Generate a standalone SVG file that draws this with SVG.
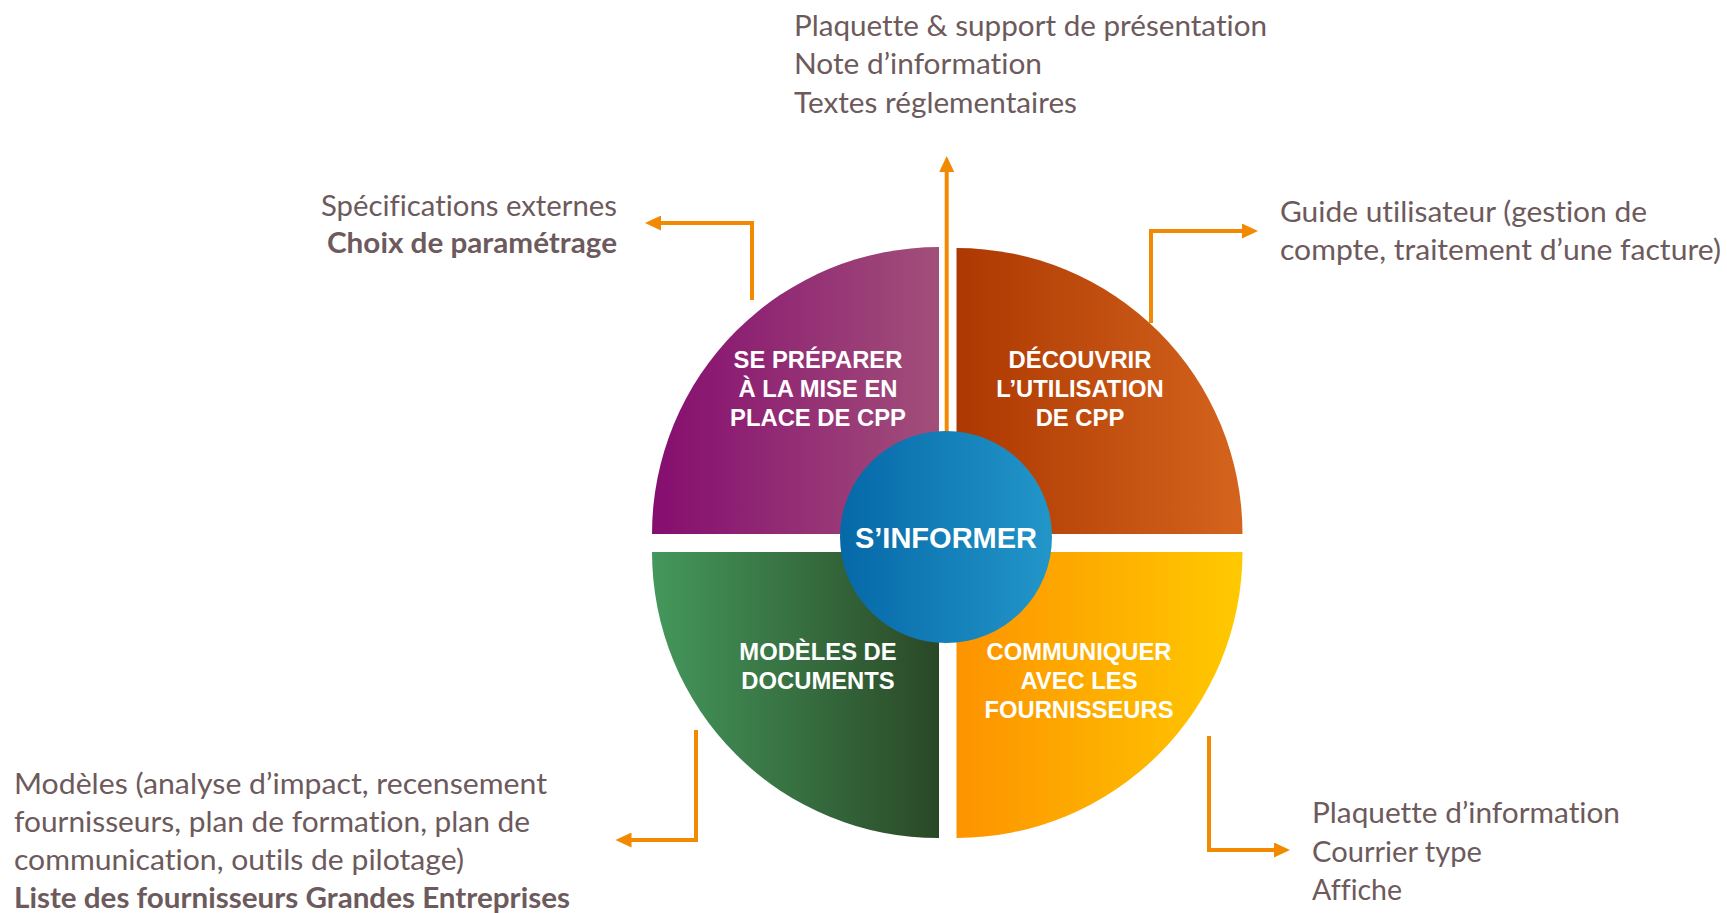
<svg xmlns="http://www.w3.org/2000/svg" width="1727" height="913" viewBox="0 0 1727 913">
<defs>
<style>
.t{font-family:Lato,"Open Sans","Liberation Sans",sans-serif;font-size:28px;fill:#6d5a5c;font-variant-ligatures:none;font-feature-settings:"liga" 0,"clig" 0}
.b{font-weight:bold}
.lbl{font-family:"Liberation Sans",Arial,sans-serif;font-weight:bold;font-size:23.8px;fill:#ffffff;text-anchor:middle}
.ctr{font-family:"Liberation Sans",Arial,sans-serif;font-weight:bold;font-size:29px;fill:#ffffff;text-anchor:middle}
.con{fill:none;stroke:#f18a00;stroke-width:4;marker-end:url(#ah)}
</style>
<marker id="ah" viewBox="0 0 16 15" refX="1" refY="7.5" markerWidth="16" markerHeight="15" markerUnits="userSpaceOnUse" orient="auto">
<path d="M0,0 L16,7.5 L0,15 Z" fill="#f18a00"/>
</marker>
<linearGradient id="gTL" x1="0" y1="0" x2="1" y2="0"><stop offset="0" stop-color="#850d6f"/><stop offset="1" stop-color="#a24f7a"/></linearGradient>
<linearGradient id="gTR" x1="0" y1="0" x2="1" y2="0"><stop offset="0" stop-color="#ad3802"/><stop offset="1" stop-color="#d4641d"/></linearGradient>
<linearGradient id="gBL" x1="0" y1="0" x2="1" y2="0"><stop offset="0" stop-color="#44985c"/><stop offset="1" stop-color="#2a4826"/></linearGradient>
<linearGradient id="gBR" x1="0" y1="0" x2="1" y2="0"><stop offset="0" stop-color="#fd9300"/><stop offset="1" stop-color="#ffc900"/></linearGradient>
<linearGradient id="gC" x1="0" y1="0" x2="1" y2="0"><stop offset="0" stop-color="#0668a8"/><stop offset="1" stop-color="#2296c9"/></linearGradient>
</defs>
<rect width="1727" height="913" fill="#ffffff"/>

<g id="connectors">
<path class="con" d="M946.7,431 V171"/>
<path class="con" d="M752,300 V223 H660"/>
<path class="con" d="M1151,323 V231 H1243"/>
<path class="con" d="M696,730 V840 H630.5"/>
<path class="con" d="M1209,736 V850 H1275"/>
</g>

<g id="node-preparer">
<path d="M939,534 H652 A287,287 0 0 1 939,247 Z" fill="url(#gTL)"/>
<text class="lbl" x="818" y="368">SE PRÉPARER</text>
<text class="lbl" x="818" y="397">À LA MISE EN</text>
<text class="lbl" x="818" y="426">PLACE DE CPP</text>
</g>

<g id="node-decouvrir">
<path d="M956.5,534 V248 A286,286 0 0 1 1242.5,534 Z" fill="url(#gTR)"/>
<text class="lbl" x="1080" y="368">DÉCOUVRIR</text>
<text class="lbl" x="1080" y="397">L’UTILISATION</text>
<text class="lbl" x="1080" y="426">DE CPP</text>
</g>

<g id="node-modeles">
<path d="M939,552 V838 A286,286 0 0 1 652,552 Z" fill="url(#gBL)"/>
<text class="lbl" x="818" y="660">MODÈLES DE</text>
<text class="lbl" x="818" y="689">DOCUMENTS</text>
</g>

<g id="node-communiquer">
<path d="M956.5,552 H1242.5 A286,286 0 0 1 956.5,838 Z" fill="url(#gBR)"/>
<text class="lbl" x="1079" y="660">COMMUNIQUER</text>
<text class="lbl" x="1079" y="689">AVEC LES</text>
<text class="lbl" x="1079" y="718">FOURNISSEURS</text>
</g>

<g id="node-sinformer">
<circle cx="946" cy="537" r="106" fill="url(#gC)"/>
<text class="ctr" x="946" y="548">S’INFORMER</text>
</g>

<g id="text-top">
<text class="t" x="794" y="36" textLength="473" lengthAdjust="spacingAndGlyphs">Plaquette &amp; support de présentation</text>
<text class="t" x="794" y="74" textLength="248" lengthAdjust="spacingAndGlyphs">Note d’information</text>
<text class="t" x="794" y="112.5" textLength="283" lengthAdjust="spacingAndGlyphs">Textes réglementaires</text>
</g>

<g id="text-topleft">
<text class="t" x="617" y="216" text-anchor="end" textLength="296" lengthAdjust="spacingAndGlyphs">Spécifications externes</text>
<text class="t b" x="617" y="253" text-anchor="end" textLength="290" lengthAdjust="spacingAndGlyphs">Choix de paramétrage</text>
</g>

<g id="text-topright">
<text class="t" x="1280" y="222" textLength="367" lengthAdjust="spacingAndGlyphs">Guide utilisateur (gestion de</text>
<text class="t" x="1280" y="260" textLength="441" lengthAdjust="spacingAndGlyphs">compte, traitement d’une facture)</text>
</g>

<g id="text-bottomleft">
<text class="t" x="14" y="794" textLength="533" lengthAdjust="spacingAndGlyphs">Modèles (analyse d’impact, recensement</text>
<text class="t" x="14" y="832" textLength="516" lengthAdjust="spacingAndGlyphs">fournisseurs, plan de formation, plan de</text>
<text class="t" x="14" y="870" textLength="450" lengthAdjust="spacingAndGlyphs">communication, outils de pilotage)</text>
<text class="t b" x="14" y="908" textLength="556" lengthAdjust="spacingAndGlyphs">Liste des fournisseurs Grandes Entreprises</text>
</g>

<g id="text-bottomright">
<text class="t" x="1312" y="823" textLength="308" lengthAdjust="spacingAndGlyphs">Plaquette d’information</text>
<text class="t" x="1312" y="861.5" textLength="170" lengthAdjust="spacingAndGlyphs">Courrier type</text>
<text class="t" x="1312" y="900" textLength="90" lengthAdjust="spacingAndGlyphs">Affiche</text>
</g>
</svg>
